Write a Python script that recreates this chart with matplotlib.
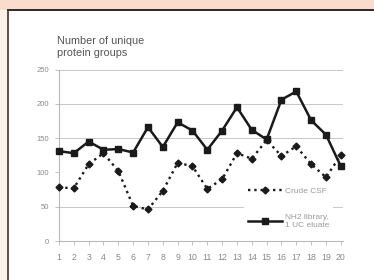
import numpy as np
import matplotlib
matplotlib.use("Agg")
import matplotlib.pyplot as plt
from matplotlib.patches import Rectangle

samples = list(range(1, 21))
crude_csf = [78, 77, 112, 128, 102, 51, 46, 73, 114, 109, 76, 90, 128, 120, 147, 124, 138, 112, 93, 125]
nh2_library = [131, 128, 145, 133, 134, 129, 166, 137, 173, 161, 133, 161, 195, 162, 148, 206, 218, 176, 155, 109]
y_ticks = [0, 50, 100, 150, 200, 250]
grid_levels = [50, 150, 200, 250]

plt.rcParams['font.family'] = ['Liberation Sans', 'DejaVu Sans']

fig = plt.figure(figsize=(3.74, 2.8), dpi=100)
fig.patch.set_facecolor('white')

# peach frame around the figure, like the page it was cut from
W, H = 374.0, 280.0
fig.patches.append(Rectangle((0, 1 - 9.5 / H), 1, 9.5 / H, transform=fig.transFigure,
                             facecolor='#f9dccd', edgecolor='none', zorder=0))
fig.patches.append(Rectangle((0, 0), 7.5 / W, 1 - 9.5 / H, transform=fig.transFigure,
                             facecolor='#fdf1ea', edgecolor='none', zorder=0))
fig.add_artist(plt.Line2D([7.5 / W, 1], [1 - 10 / H, 1 - 10 / H], transform=fig.transFigure,
                          color='#2a2a2a', lw=1.4))
fig.add_artist(plt.Line2D([7.5 / W, 7.5 / W], [0, 1 - 10 / H], transform=fig.transFigure,
                          color='#4a3028', lw=1.2))

ax = fig.add_axes([59 / W, 1 - 241 / H, 284 / W, 171.5 / H])
ax.set_facecolor('none')

for g in grid_levels:
    ax.axhline(g, color='#c8c8c8', lw=0.7, zorder=0)

ax.plot(samples, crude_csf, color='#1a1a1a', ls=':', lw=1.7, marker='D', ms=3.5,
        label='Crude CSF', zorder=3, clip_on=False)
ax.plot(samples, nh2_library, color='#1a1a1a', ls='-', lw=1.8, marker='s', ms=4.5,
        label='NH2 library,\n1 UC eluate', zorder=3, clip_on=False)

ax.set_xlim(1, 20.15)
ax.set_ylim(0, 250)
ax.set_xticks(samples)
ax.set_yticks(y_ticks)

for s in ['top', 'right']:
    ax.spines[s].set_visible(False)
for s in ['left', 'bottom']:
    ax.spines[s].set_color('#b8b8b8')
    ax.spines[s].set_linewidth(0.8)

ax.tick_params(axis='both', colors='#b8b8b8', labelcolor='#8a8a8a', labelsize=5.5,
               length=3, width=0.6)
ax.tick_params(axis='y', pad=4)
ax.tick_params(axis='x', pad=6, labelsize=6.3)

leg = ax.legend(loc='lower left', bbox_to_anchor=(0.65, 0.045), borderaxespad=0,
                frameon=True, fontsize=6, handlelength=4.1, handletextpad=0.36,
                labelspacing=2.3, borderpad=0.5)
leg.get_frame().set_facecolor('white')
leg.get_frame().set_edgecolor('none')
leg.get_frame().set_alpha(1)
for t in leg.get_texts():
    t.set_color('#9a9a9a')

fig.text(57 / W, 1 - 36 / H, 'Number of unique\nprotein groups', fontsize=7.8,
         color='#555555', va='top', ha='left', linespacing=1.3)

fig.savefig('out.png', dpi=100)
